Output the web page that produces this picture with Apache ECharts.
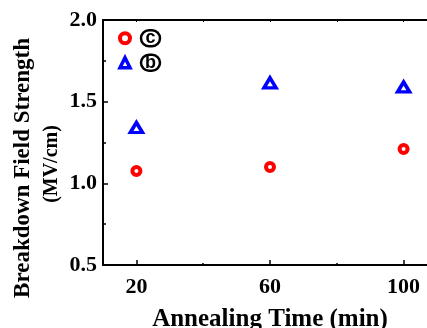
<!DOCTYPE html>
<html>
<head>
<meta charset="utf-8">
<script src="https://cdn.jsdelivr.net/npm/echarts@6/dist/echarts.min.js"></script>
<style>
  html, body { margin: 0; padding: 0; background: #fff; }
  #chart { width: 427px; height: 328px; }
</style>
</head>
<body>
<div id="chart"></div>
<script>
// annealing time (min) vs breakdown field strength (MV/cm)
var times = [20, 60, 100];
var sampleC = [1.075, 1.10, 1.21];
var sampleB = [1.342, 1.615, 1.59];
var xLabels = [20, 60, 100];
var xMinor = [40, 80];

var serif = '"Liberation Serif", "Times New Roman", serif';

function pairs(xs, ys) {
    return xs.map(function (x, i) { return [x, ys[i]]; });
}

var chart = echarts.init(document.getElementById('chart'));
var option = {
    backgroundColor: '#fff',
    animation: false,
    grid: { left: 103, top: 20, width: 334, height: 245, outerBoundsMode: 'none' },
    legend: {
        orient: 'vertical',
        left: 113,
        top: 24,
        itemWidth: 10,
        itemHeight: 10,
        itemGap: 6,
        formatter: function (name) { return '{o|' + name + '}'; },
        textStyle: {
            padding: [0, 0, 0, 6],
            rich: {
                o: {
                    fontFamily: '"Liberation Sans", Arial, sans-serif', fontWeight: 'bold', fontSize: 18,
                    color: '#000', width: 19, height: 16, lineHeight: 16, align: 'center',
                    borderColor: '#000', borderWidth: 2.5, borderRadius: 10
                }
            }
        },
        data: [
            { name: 'c', itemStyle: { borderWidth: 4 } },
            { name: 'b', itemStyle: { borderWidth: 3.5 } }
        ]
    },
    xAxis: [
        {
            type: 'value', min: 10, max: 110, position: 'bottom',
            name: 'Annealing Time (min)', nameLocation: 'middle', nameGap: 42,
            nameTextStyle: { fontFamily: serif, fontWeight: 'bold', fontSize: 25, color: '#000' },
            axisLine: { lineStyle: { color: '#000', width: 2 } },
            axisTick: { inside: true, length: 5, customValues: xLabels, lineStyle: { color: '#000', width: 1.5 } },
            axisLabel: { customValues: xLabels, margin: 11, fontFamily: serif, fontWeight: 'bold', fontSize: 22, color: '#000' },
            splitLine: { show: false }
        },
        {
            type: 'value', min: 10, max: 110, position: 'bottom', offset: 0,
            axisLine: { show: false },
            axisTick: { inside: true, length: 2, customValues: xMinor, lineStyle: { color: '#000', width: 1.5 } },
            axisLabel: { show: false },
            splitLine: { show: false }
        },
        {
            type: 'value', min: 10, max: 110, position: 'top',
            axisLine: { lineStyle: { color: '#000', width: 2 } },
            axisTick: { inside: true, length: 2, customValues: [20, 40, 60, 80, 100], lineStyle: { color: '#000', width: 1 } },
            axisLabel: { show: false },
            splitLine: { show: false }
        }
    ],
    yAxis: {
        type: 'value', min: 0.5, max: 2.0, interval: 0.5,
        axisLine: { show: true, lineStyle: { color: '#000', width: 2 } },
        axisTick: { show: true, inside: true, length: 5, lineStyle: { color: '#000', width: 1.5 } },
        minorTick: { show: true, splitNumber: 2, length: 3, lineStyle: { color: '#000', width: 1.5 } },
        axisLabel: {
            margin: 6, fontFamily: serif, fontWeight: 'bold', fontSize: 22, color: '#000',
            formatter: function (v) { return v.toFixed(1); }
        },
        splitLine: { show: false }
    },
    graphic: [
        {
            type: 'text', x: 23, y: 168, rotation: Math.PI / 2,
            style: { text: 'Breakdown Field Strength', fontFamily: serif, fontWeight: 'bold', fontSize: 23, fill: '#000', align: 'center', verticalAlign: 'middle' }
        },
        {
            type: 'text', x: 52, y: 164, rotation: Math.PI / 2,
            style: { text: '(MV/cm)', fontFamily: serif, fontWeight: 'bold', fontSize: 20, fill: '#000', align: 'center', verticalAlign: 'middle' }
        }
    ],
    series: [
        {
            name: 'c', type: 'scatter', symbol: 'circle', symbolSize: 8,
            itemStyle: { color: '#fff', borderColor: '#ff0000', borderWidth: 4, opacity: 1 },
            data: pairs(times, sampleC)
        },
        {
            name: 'b', type: 'scatter', symbol: 'triangle', symbolSize: [12, 10],
            itemStyle: { color: '#fff', borderColor: '#0000ff', borderWidth: 3.5, opacity: 1 },
            data: pairs(times, sampleB)
        }
    ]
};
chart.setOption(option);
</script>
</body>
</html>
